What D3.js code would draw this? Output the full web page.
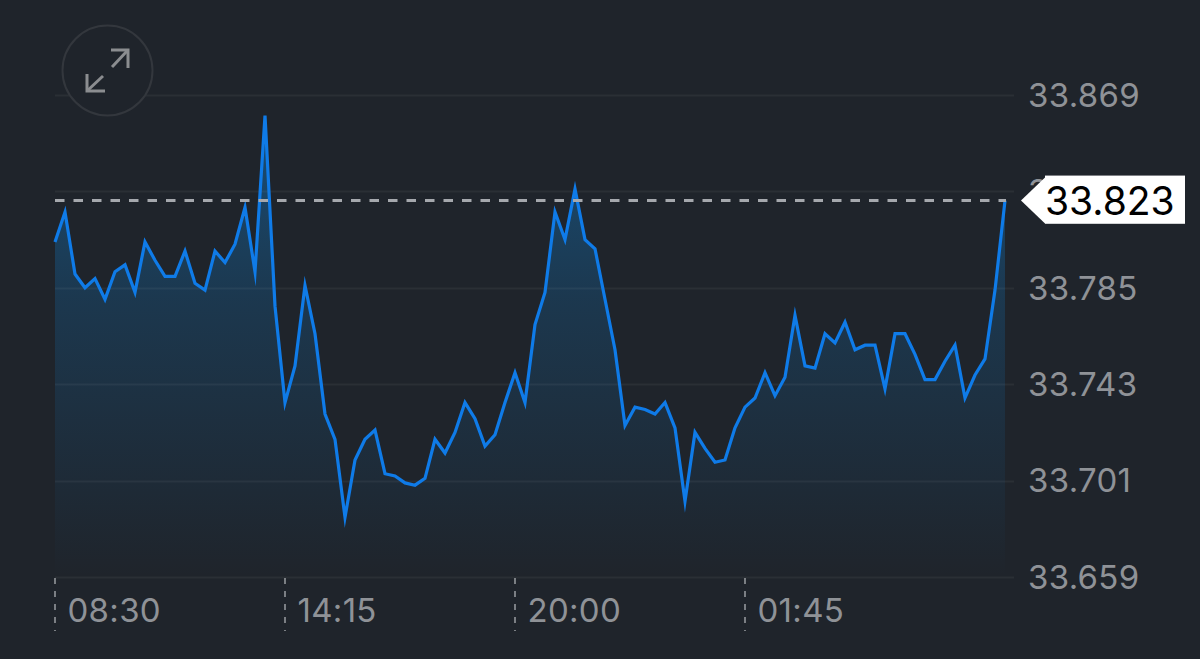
<!DOCTYPE html>
<html><head><meta charset="utf-8">
<script src="https://cdn.jsdelivr.net/npm/d3@7/dist/d3.min.js"></script>
<style>html,body{margin:0;padding:0;background:#1f242b;overflow:hidden}svg{display:block}text{font-family:Inter,"Liberation Sans",sans-serif}</style>
</head><body><svg id="c" width="1200" height="659"></svg>
<script>
const priceValues = [33.805,33.818,33.791,33.785,33.789,33.780,33.792,33.795,33.783,33.805,
33.797,33.790,33.790,33.801,33.787,33.784,33.801,33.796,33.804,33.820,
33.792,33.860,33.777,33.735,33.751,33.786,33.765,33.730,33.719,33.685,
33.710,33.719,33.723,33.704,33.703,33.700,33.699,33.702,33.719,33.713,
33.722,33.735,33.728,33.716,33.721,33.735,33.748,33.735,33.769,33.783,
33.818,33.806,33.828,33.806,33.802,33.780,33.758,33.725,33.733,33.732,
33.730,33.735,33.724,33.692,33.722,33.715,33.709,33.710,33.724,33.733,
33.737,33.748,33.738,33.746,33.773,33.751,33.750,33.765,33.761,33.770,
33.758,33.760,33.760,33.741,33.765,33.765,33.756,33.745,33.745,33.753,
33.760,33.737,33.747,33.754,33.784,33.823];
const yTicks = [33.869,33.827,33.785,33.743,33.701,33.659];
const xTickIndex = [0,23,46,69];
const xTickLabels = ["08:30","14:15","20:00","01:45"];
const lastPrice = 33.823;

const svg = d3.select("#c");
const x = d3.scaleLinear().domain([0,priceValues.length-1]).range([55,1005]);
const y = d3.scaleLinear().domain([33.659,33.869]).range([577,95]);
const fontAxis = 33;

const defs = svg.append("defs");
const g = defs.append("linearGradient").attr("id","fade").attr("gradientUnits","userSpaceOnUse")
  .attr("x1",0).attr("x2",0).attr("y1",y(33.860)).attr("y2",577);
g.append("stop").attr("offset",0).attr("stop-color","#0f86dc").attr("stop-opacity",0.42);
g.append("stop").attr("offset",0.4).attr("stop-color","#0f86dc").attr("stop-opacity",0.2);
g.append("stop").attr("offset",1).attr("stop-color","#0f86dc").attr("stop-opacity",0.0);

svg.append("path").datum(priceValues).attr("fill","url(#fade)")
  .attr("d",d3.area().x((d,i)=>x(i)).y0(577).y1(d=>y(d)));

svg.append("g").selectAll("line").data(yTicks).join("line")
  .attr("x1",55).attr("x2",1014).attr("y1",d=>Math.round(y(d))+0.5).attr("y2",d=>Math.round(y(d))+0.5)
  .attr("stroke","#ffffff").attr("stroke-opacity",0.05).attr("stroke-width",2);

svg.append("g").selectAll("text").data(yTicks).join("text")
  .attr("x",1028).attr("y",d=>y(d)).attr("dy","0.36em").attr("letter-spacing",0.3)
  .attr("font-size",fontAxis).attr("fill","#8f9297").text(d=>d3.format(".3f")(d));

svg.append("g").selectAll("line").data(xTickIndex).join("line")
  .attr("x1",d=>x(d)).attr("x2",d=>x(d)).attr("y1",578).attr("y2",631)
  .attr("stroke","#9a9da3").attr("stroke-width",1.5).attr("stroke-dasharray","6 7");

svg.append("g").selectAll("text").data(xTickIndex).join("text")
  .attr("x",d=>x(d)+12.5).attr("y",622).attr("letter-spacing",0.3)
  .attr("font-size",fontAxis).attr("fill","#8f9297").text((d,i)=>xTickLabels[i]);

svg.append("path").datum(priceValues).attr("fill","none")
  .attr("stroke","#0f7be8").attr("stroke-width",3.2).attr("stroke-linejoin","miter").attr("stroke-miterlimit",10)
  .attr("d",d3.line().x((d,i)=>x(i)).y(d=>y(d)));

svg.append("line").attr("x1",55).attr("x2",1006).attr("y1",y(lastPrice)).attr("y2",y(lastPrice))
  .attr("stroke","#a5a8ad").attr("stroke-width",3).attr("stroke-dasharray","9.5 9");

const ly = y(lastPrice);
svg.append("path").attr("fill","#ffffff")
  .attr("d",d3.line()([[1021,ly],[1045,ly-23],[1185,ly-23],[1185,ly+23],[1045,ly+23]])+"Z");
svg.append("rect").attr("x",1045).attr("y",ly-25).attr("width",140).attr("height",48).attr("fill","#fff");
svg.append("text").attr("x",1045).attr("y",ly).attr("dy","0.36em").attr("font-size",39).attr("fill","#000")
  .text(d3.format(".3f")(lastPrice));

const icon = svg.append("g");
icon.append("circle").attr("cx",107.5).attr("cy",70.5).attr("r",45).attr("fill","#1f242b").attr("stroke","#33373d").attr("stroke-width",2);
const a = icon.append("g").attr("fill","none").attr("stroke","#8b8d90").attr("stroke-width",3);
[[[112,67],[128,50]],[[111,50],[128,50],[128,68]],[[103,76],[87,91]],[[87,74],[87,91],[105,91]]]
  .forEach(p=>a.append("path").attr("d",d3.line()(p)));
</script></body></html>
